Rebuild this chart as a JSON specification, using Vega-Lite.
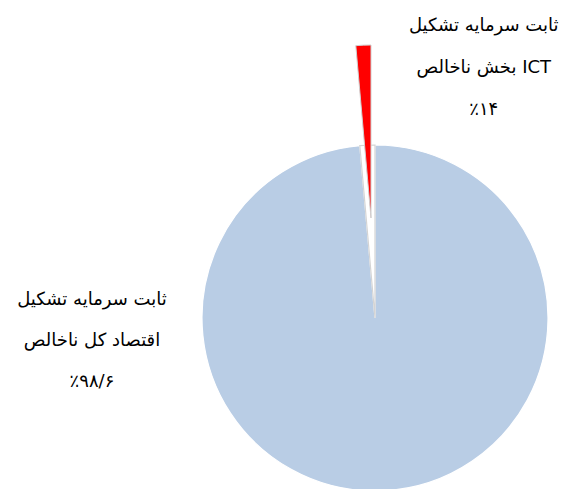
{
  "$schema": "https://vega.github.io/schema/vega-lite/v6.json",
  "width": 376,
  "height": 346,
  "padding": {"left": 187, "top": 145, "right": 0, "bottom": 0},
  "autosize": {"type": "none"},
  "background": "white",
  "view": {"stroke": null},
  "data": {
    "values": [
      {"part": "کل اقتصاد", "value": 98.6, "label": "\u200eتشکیل\u200e \u200eسرمایه\u200e \u200eثابت\u200e\n\u200eناخالص\u200e \u200eکل\u200e \u200eاقتصاد\u200e\n\u200e٪۹۸/۶"},
      {"part": "ICT", "value": 1.4, "label": "\u200eتشکیل\u200e \u200eسرمایه\u200e \u200eثابت\u200e\n\u200eناخالص\u200e \u200eبخش\u200e ICT\n\u200e٪۱۴"}
    ]
  },
  "encoding": {
    "theta": {"field": "value", "type": "quantitative", "stack": true},
    "order": {"field": "value", "type": "quantitative", "sort": "descending"}
  },
  "layer": [
    {
      "mark": {"type": "arc", "strokeWidth": 1.2},
      "encoding": {
        "color": {"condition": {"test": "datum.part === 'ICT'", "value": "#ffffff"}, "value": "#B9CDE5"},
        "stroke": {"condition": {"test": "datum.part === 'ICT'", "value": "#d4d4d4"}, "value": "#ffffff"}
      }
    },
    {
      "mark": {"type": "arc", "xOffset": -4, "yOffset": -100, "stroke": "#d0d0d0", "strokeWidth": 1},
      "encoding": {
        "color": {"value": "#FF0000"},
        "fillOpacity": {"condition": {"test": "datum.part === 'ICT'", "value": 1}, "value": 0},
        "strokeOpacity": {"condition": {"test": "datum.part === 'ICT'", "value": 1}, "value": 0}
      }
    },
    {
      "mark": {"type": "text", "radius": 283.6, "thetaOffset": 1.678, "lineBreak": "\n", "lineHeight": 41, "fontSize": 18, "font": "DejaVu Sans", "color": "#000000", "align": "center", "baseline": "middle"},
      "encoding": {"text": {"condition": {"test": "datum.part !== 'ICT'", "field": "label"}, "value": ""}}
    },
    {
      "mark": {"type": "text", "radius": 312, "thetaOffset": 0.4, "lineBreak": "\n", "lineHeight": 42, "fontSize": 18, "font": "DejaVu Sans", "color": "#000000", "align": "center", "baseline": "middle"},
      "encoding": {"text": {"condition": {"test": "datum.part === 'ICT'", "field": "label"}, "value": ""}}
    }
  ]
}
